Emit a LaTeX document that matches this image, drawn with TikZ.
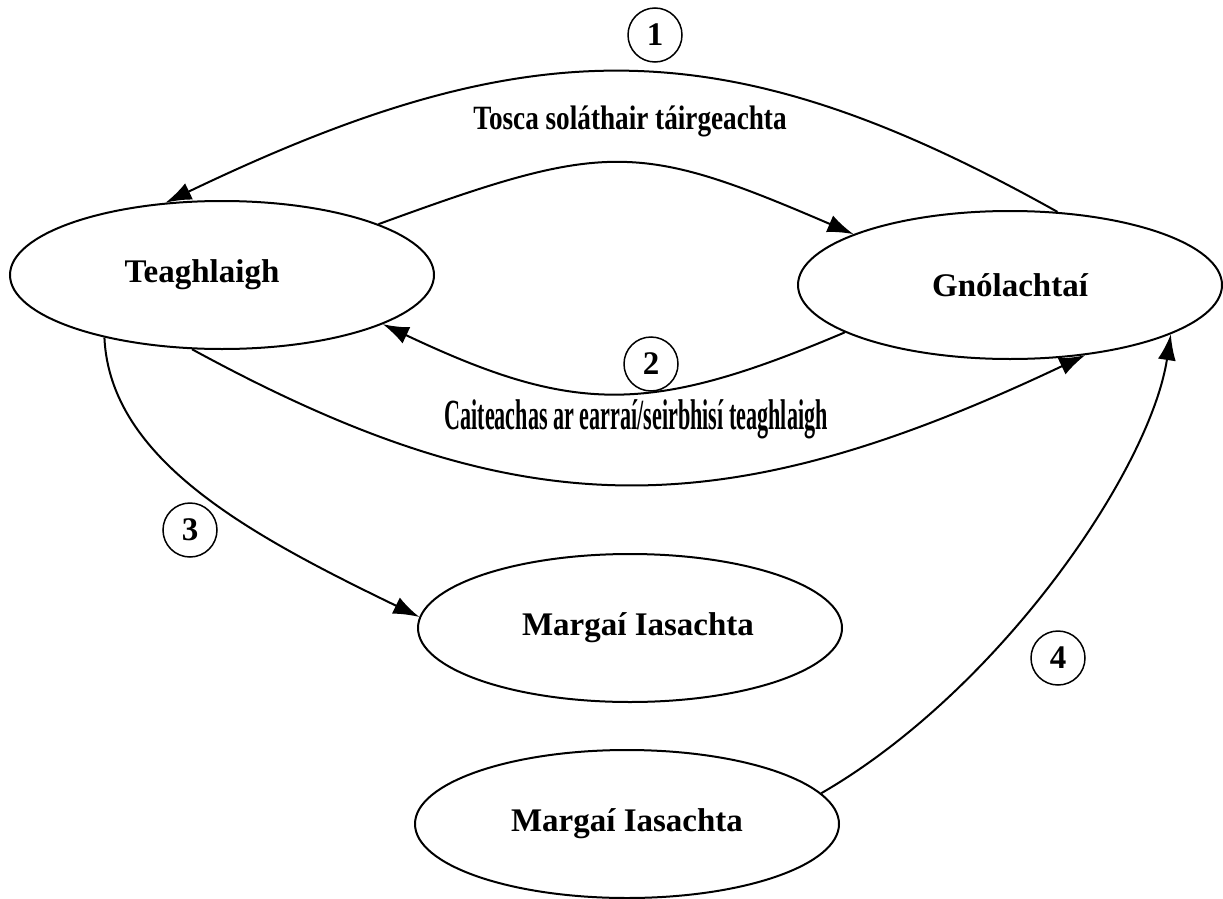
\documentclass[tikz,border=0pt]{standalone}
\usepackage{fontspec}
\setmainfont{Liberation Serif}
\usepackage{graphicx}
\usetikzlibrary{shapes.geometric,arrows.meta}

\begin{document}
\begin{tikzpicture}[x=1pt,y=-1pt,
	ell/.style={draw, ellipse, line width=2pt, minimum width=424pt, minimum height=148pt, inner sep=0pt, font=\fontsize{33}{36}\selectfont\bfseries},
	num/.style={draw, circle, line width=1.5pt, minimum size=54pt, inner sep=0pt, font=\fontsize{33}{36}\selectfont\bfseries},
	lab/.style={inner sep=0pt, font=\bfseries},
	arr/.style={line width=2pt, -{Latex[length=26pt,width=18pt]}}]
	\useasboundingbox (0,0) rectangle (1223,899);

	\node[ell] (T) at (222,275) {Teaghlaigh\hspace*{40pt}};
	\node[ell] (G) at (1010,285) {Gnólachtaí};
	\node[ell] (M1) at (630,628) {\hspace*{16pt}Margaí Iasachta};
	\node[ell] (M2) at (627,824) {Margaí Iasachta};

	\node[num] (n1) at (655,35) {1};
	\node[num] (n2) at (651,364) {2};
	\node[num] (n3) at (190,530) {3};
	\node[num] (n4) at (1058,658) {4};

	\node[lab, font=\fontsize{34}{36}\selectfont\bfseries] (L1) at (630,121)
	{\scalebox{0.8}[1]{Tosca soláthair táirgeachta}};
	\node[lab, font=\fontsize{43}{46}\selectfont\bfseries] (L2) at (636,419)
	{\scalebox{0.515}[1]{Caiteachas ar earraí/seirbhisí teaghlaigh}};

	\draw[arr] (G.57) .. controls (727,27) and (532,27) .. (T.128);
	\draw[arr] (T.18) .. controls (606,141) and (637,141) .. (G.162);
	\draw[arr] (G.-164) .. controls (650,415) and (575,415) .. (T.-17);
	\draw[arr] (T.-112) .. controls (520,528) and (720,528) .. (G.-43);
	\draw[arr] (T.-152) .. controls (110,460) and (250,535) .. (M1.177);
	\draw[arr] (M2.9) .. controls (1000,690) and (1150,470) .. (G.-17);
\end{tikzpicture}
\end{document}
